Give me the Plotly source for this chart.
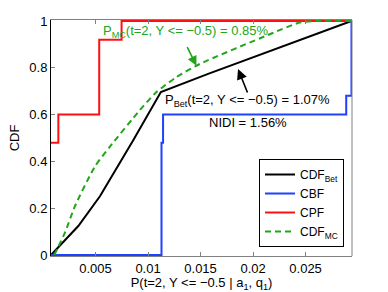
import plotly.graph_objects as go

# ---- data ----
x_min, x_max = 0.00076, 0.02937

bet_x = [0.00076, 0.00336, 0.00542, 0.00859, 0.01122, 0.01572, 0.02937]
bet_y = [0.0, 0.124, 0.251, 0.49, 0.696, 0.774, 1.0]

cbf_x = [0.00076, 0.01128, 0.01143, 0.02887, 0.02937]
cbf_y = [0.0, 0.48, 0.60, 0.68, 1.0]

cpf_x = [0.00076, 0.00146, 0.00535, 0.00748, 0.02937]
cpf_y = [0.48, 0.60, 0.92, 1.0, 1.0]

mc_x = [0.00107, 0.00209, 0.00304, 0.00494, 0.00637, 0.00922, 0.0108,
        0.0127, 0.01492, 0.02158, 0.02443, 0.0263, 0.02937]
mc_y = [0.0, 0.096, 0.209, 0.378, 0.463, 0.619, 0.696,
        0.76, 0.816, 0.943, 0.993, 1.0, 1.0]

x_ticks = [0.005, 0.01, 0.015, 0.02, 0.025]
x_tick_labels = ["0.005", "0.01", "0.015", "0.02", "0.025"]
y_ticks = [0, 0.2, 0.4, 0.6, 0.8, 1]
y_tick_labels = ["0", "0.2", "0.4", "0.6", "0.8", "1"]

GREEN = "#22a51a"
BLUE = "#2040ff"
RED = "#ff1010"
FONT = "Liberation Sans, Arial, sans-serif"

fig = go.Figure()
fig.add_trace(go.Scatter(x=bet_x, y=bet_y, mode="lines", name="CDF<sub>Bet</sub>",
                         line=dict(color="black", width=2)))
fig.add_trace(go.Scatter(x=cbf_x, y=cbf_y, mode="lines", name="CBF",
                         line=dict(color=BLUE, width=2, shape="hv")))
fig.add_trace(go.Scatter(x=cpf_x, y=cpf_y, mode="lines", name="CPF",
                         line=dict(color=RED, width=2, shape="hv")))
fig.add_trace(go.Scatter(x=mc_x, y=mc_y, mode="lines", name="CDF<sub>MC</sub>",
                         line=dict(color=GREEN, width=2, dash="6px,4px", shape="spline", smoothing=0.6)))

# annotations
fig.add_annotation(x=0.01359, y=0.955, text="P<sub>MC</sub>(t=2, Y <= \u22120.5) = 0.85%",
                   showarrow=False, font=dict(color=GREEN, size=13, family=FONT))
fig.add_annotation(x=0.01461, y=0.809, ax=-10, ay=-20, text="", showarrow=True,
                   arrowhead=2, arrowsize=1.2, arrowwidth=1.6, arrowcolor=GREEN)
fig.add_annotation(x=0.01949, y=0.66, text="P<sub>Bet</sub>(t=2, Y <= \u22120.5) = 1.07%",
                   showarrow=False, font=dict(color="black", size=13, family=FONT))
fig.add_annotation(x=0.01857, y=0.795, ax=10, ay=25, text="", showarrow=True,
                   arrowhead=2, arrowsize=1.3, arrowwidth=1.6, arrowcolor="black")
fig.add_annotation(x=0.01949, y=0.566, text="NIDI = 1.56%",
                   showarrow=False, font=dict(color="black", size=13, family=FONT))

# right spine (gray)
fig.add_shape(type="line", xref="paper", yref="paper", x0=1, x1=1, y0=0, y1=1,
              line=dict(color="#808080", width=1))

fig.update_layout(
    width=388, height=292,
    margin=dict(l=51, r=36, t=20, b=36),
    paper_bgcolor="white", plot_bgcolor="white",
    font=dict(family=FONT, size=13, color="black"),
    showlegend=True,
    legend=dict(x=0.691, y=0.411, xanchor="left", yanchor="top",
                bgcolor="white", bordercolor="black", borderwidth=1,
                font=dict(size=12, family=FONT), tracegroupgap=0,
                itemwidth=30),
)
fig.update_xaxes(range=[x_min, x_max + 0.00005], tickvals=x_ticks, ticktext=x_tick_labels,
                 automargin=False,
                 showgrid=False, zeroline=False, showline=True, linecolor="#808080",
                 linewidth=1, mirror="ticks", ticks="inside", ticklen=4, tickcolor="#808080",
                 tickfont=dict(size=13),
                 title=dict(text="P(t=2, Y <= \u22120.5 | a<sub>1</sub>, q<sub>1</sub>)",
                            font=dict(size=13), standoff=2))
fig.update_yaxes(range=[-0.004, 1.004], tickvals=y_ticks, ticktext=y_tick_labels,
                 automargin=False,
                 showgrid=False, zeroline=False, showline=True, linecolor="black",
                 linewidth=1, mirror=False, ticks="inside", ticklen=4, tickcolor="#808080",
                 tickfont=dict(size=13),
                 title=dict(text="CDF", font=dict(size=13), standoff=6))

fig.write_html("out.html", config={"displayModeBar": False},
               post_script="document.body.style.margin='0';")
